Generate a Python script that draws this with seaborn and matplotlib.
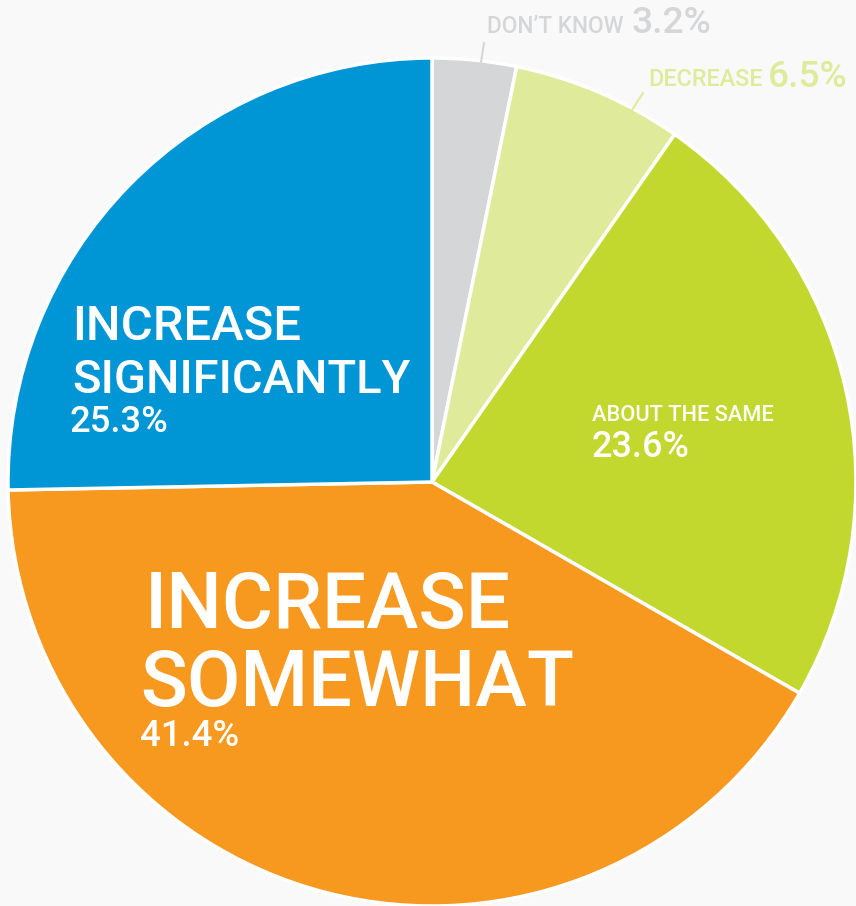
import matplotlib
matplotlib.use("Agg")
import matplotlib.pyplot as plt
import seaborn as sns

# Survey shares, clockwise from 12 o'clock
labels = ["DON'T KNOW", "DECREASE", "ABOUT THE SAME", "INCREASE SOMEWHAT", "INCREASE SIGNIFICANTLY"]
values = [3.2, 6.5, 23.6, 41.4, 25.3]
colors = ["#d5d6d8", "#dfeb9a", "#c2d82f", "#f7981f", "#0096d6"]

sns.set_style("white")
plt.rcParams["font.family"] = ["Roboto", "DejaVu Sans"]

W, H = 856, 906
fig = plt.figure(figsize=(W / 100, H / 100), dpi=100, facecolor="#f9f9f9")
ax = fig.add_axes([0, 0, 1, 1])
ax.set_facecolor("#f9f9f9")

ax.pie(values, colors=sns.color_palette(colors), startangle=90, counterclock=False,
       center=(432, H - 482), radius=424,
       wedgeprops=dict(edgecolor="white", linewidth=2.5))
ax.set_xlim(0, W)
ax.set_ylim(0, H)
ax.set_aspect("equal")
ax.axis("off")

renderer = fig.canvas.get_renderer()


def txt(x, y, s, width, color="white", weight="medium"):
    # size the text so it spans about `width` pixels like the original
    t = ax.text(x, H - y, s, fontsize=20, color=color, ha="left", va="baseline",
                fontweight=weight)
    w = t.get_window_extent(renderer).width
    t.set_fontsize(20 * width / w)
    return t


# small outside labels with leader lines
grey, lgreen = colors[0], colors[1]
txt(487, 33, "DON’T KNOW", 136, grey)
txt(632, 33, "3.2%", 80, grey)
ax.plot([484, 481], [H - 43, H - 62], color=grey, lw=1.5)

txt(648, 86, "DECREASE", 114, lgreen)
txt(768, 87, "6.5%", 80, lgreen)
ax.plot([643, 632], [H - 93, H - 110], color=lgreen, lw=1.5)

# inside labels
txt(72, 340, "INCREASE", 228)
txt(72, 393, "SIGNIFICANTLY", 338)
txt(70, 432, "25.3%", 99)

txt(592, 421, "ABOUT THE SAME", 181)
txt(592, 457, "23.6%", 98)

txt(145, 628, "INCREASE", 365)
txt(140, 706, "SOMEWHAT", 433)
txt(140, 746, "41.4%", 100)

fig.savefig("out.png", dpi=100, facecolor=fig.get_facecolor())
